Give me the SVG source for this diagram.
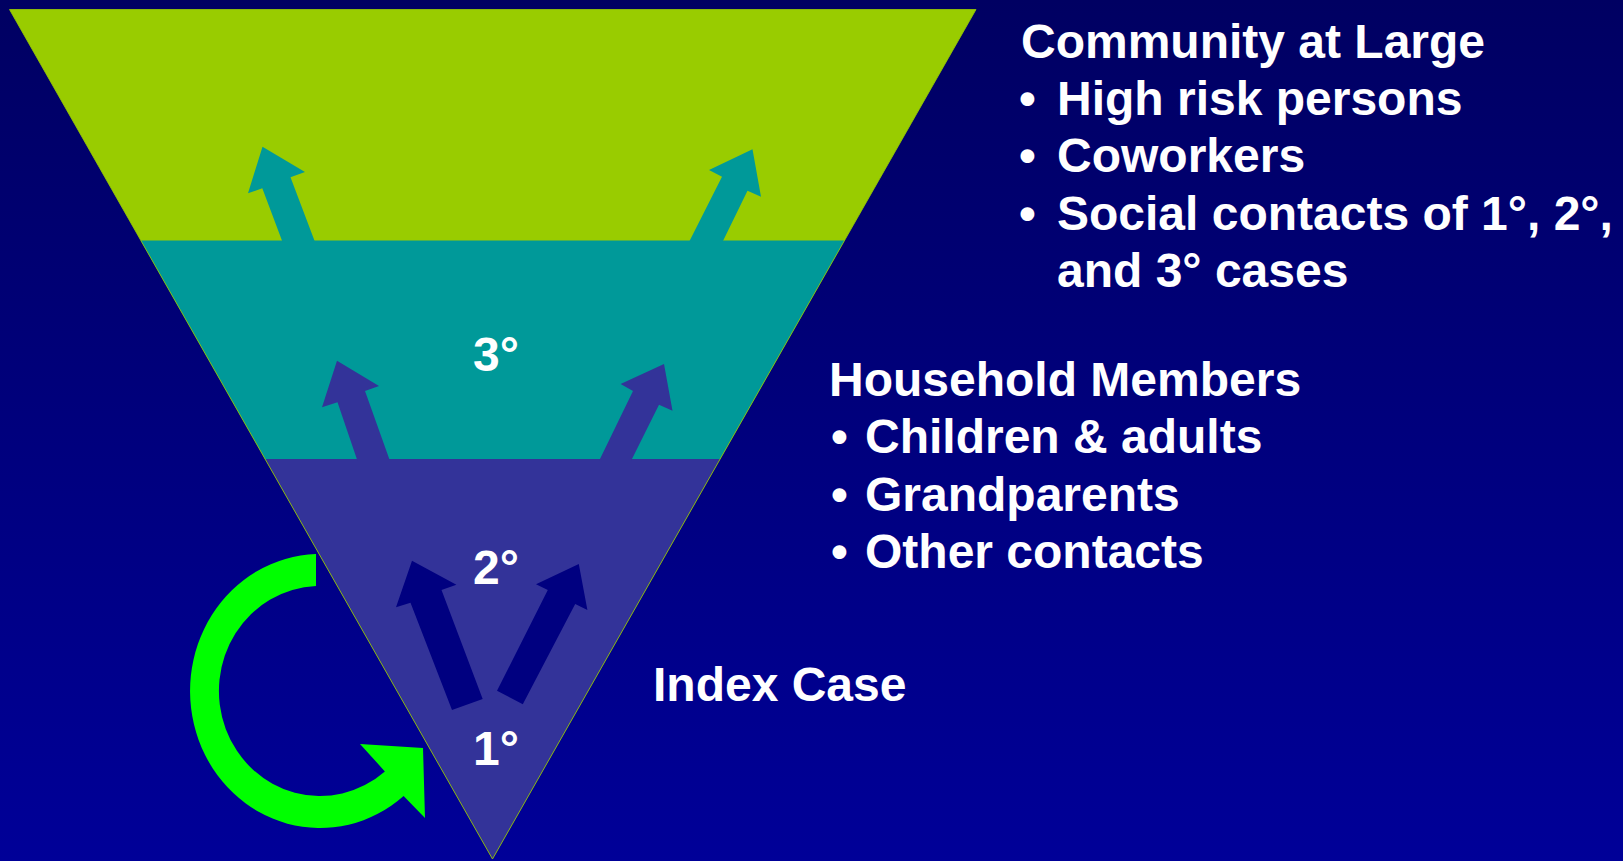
<svg xmlns="http://www.w3.org/2000/svg" width="1623" height="861" viewBox="0 0 1623 861">
  <defs>
    <linearGradient id="bg" x1="0" y1="0" x2="0" y2="1">
      <stop offset="0" stop-color="#000062"/>
      <stop offset="1" stop-color="#000098"/>
    </linearGradient>
    <style>
      .t { font-family: "Liberation Sans", Arial, sans-serif; font-weight: bold; font-size: 48px; fill: #ffffff; }
      .teal { fill: #009999; }
      .purple { fill: #333399; }
      .navy { fill: #000080; }
    </style>
  </defs>
  <rect x="0" y="0" width="1623" height="861" fill="url(#bg)"/>

  <g id="funnel">
    <polygon points="9.5,9.5 976,9.5 492.5,859" fill="#99cc00"/>
    <polygon points="140.8,240.5 844.5,240.5 720.1,459 265.1,459" fill="#009999"/>
    <polygon points="265.1,459 720.1,459 492.5,859" fill="#333399"/>
    <polygon points="9.5,9.5 976,9.5 492.5,859" fill="none" stroke="#99cc00" stroke-width="0.8"/>
  </g>

  <g id="connectors">
    <polygon class="teal" points="262.5,146.7 305,172 290.5,177.3 315,242 282.5,242 262.3,188.3 248,193.3"/>
    <polygon class="teal" points="752.5,149.3 761,196.7 747.5,190.7 722.5,242 689,242 722,176.7 709,170"/>
    <polygon class="purple" points="337,360.7 379,386 365,391 390,461 357.5,461 337.5,402.3 322,407.3"/>
    <polygon class="purple" points="664,364 672.5,410.7 659,404.7 631,461 599,461 633,391 620.6,384"/>
    <polygon class="navy" points="412,560.7 456.4,584.7 441.5,590 482.7,699 452,710 410.5,602.7 396,607.3"/>
    <polygon class="navy" points="578.8,564 587.4,610 575.2,604 522.8,704.3 497,690.7 547.8,590 536,584.3"/>
    <path id="loop" d="M316,554.1 A130,137 0 1 0 403.6,796 L425,818 L423,748 L360,744 L384.9,771.4 A101,105 0 1 1 316,586.1 Z" fill="#00ff00"/>
  </g>

  <g id="degree-labels">
    <text class="t" x="473" y="371">3°</text>
    <text class="t" x="473" y="584">2°</text>
    <text class="t" x="473" y="765">1°</text>
  </g>

  <g id="community">
    <text class="t" x="1021" y="58">Community at Large</text>
    <text class="t" x="1019" y="115">•</text>
    <text class="t" x="1057" y="115">High risk persons</text>
    <text class="t" x="1019" y="172">•</text>
    <text class="t" x="1057" y="172">Coworkers</text>
    <text class="t" x="1019" y="230">•</text>
    <text class="t" x="1057" y="230">Social contacts of 1°, 2°,</text>
    <text class="t" x="1057" y="287">and 3° cases</text>
  </g>

  <g id="household">
    <text class="t" x="829" y="396">Household Members</text>
    <text class="t" x="831" y="453">•</text>
    <text class="t" x="865" y="453">Children &amp; adults</text>
    <text class="t" x="831" y="511">•</text>
    <text class="t" x="865" y="511">Grandparents</text>
    <text class="t" x="831" y="568">•</text>
    <text class="t" x="865" y="568">Other contacts</text>
  </g>

  <g id="index">
    <text class="t" x="653" y="701">Index Case</text>
  </g>
</svg>
